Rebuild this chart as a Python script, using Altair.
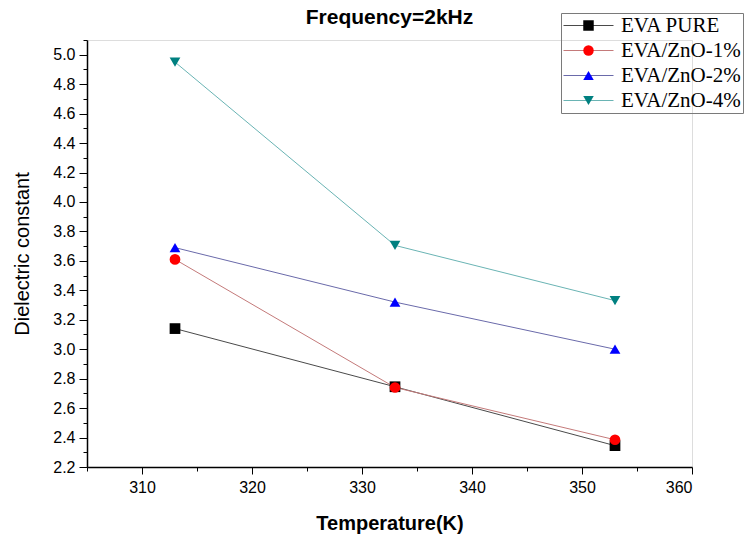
import altair as alt
import pandas as pd

temperature = [313, 333, 353]
series_names = ["EVA PURE", "EVA/ZnO-1%", "EVA/ZnO-2%", "EVA/ZnO-4%"]
eva_pure = [3.14, 2.745, 2.345]
eva_zno_1 = [3.61, 2.74, 2.385]
eva_zno_2 = [3.69, 3.32, 3.00]
eva_zno_4 = [4.95, 3.705, 3.33]

marker_colors = ["#000000", "#ff0000", "#0000ff", "#008080"]
line_colors = ["#4a4a4a", "#c47a7a", "#6a6aaa", "#6ab4b4"]
marker_shapes = ["square", "circle", "triangle-up", "triangle-down"]

x_ticks = [305, 310, 315, 320, 325, 330, 335, 340, 345, 350, 355, 360]
y_ticks = [2.2, 2.3, 2.4, 2.5, 2.6, 2.7, 2.8, 2.9, 3.0, 3.1, 3.2, 3.3, 3.4, 3.5,
           3.6, 3.7, 3.8, 3.9, 4.0, 4.1, 4.2, 4.3, 4.4, 4.5, 4.6, 4.7, 4.8, 4.9,
           5.0, 5.1]

rows = []
for name, vals in zip(series_names, [eva_pure, eva_zno_1, eva_zno_2, eva_zno_4]):
    for t, v in zip(temperature, vals):
        rows.append({"series": name, "series_line": name, "T": t, "eps": v})
df = pd.DataFrame(rows)

SANS = "Liberation Sans"
SERIF = "Liberation Serif"

x_axis = alt.Axis(
    values=x_ticks,
    labelExpr="datum.value % 10 === 0 ? datum.label : ''",
    format="d",
    tickSize={"condition": {"test": "datum.value % 10 === 0", "value": 7}, "value": 4},
    tickColor="black", tickWidth=1,
    domainColor="black", domainWidth=1.5,
    grid=False,
    labelFont=SANS, labelFontSize=16, labelColor="black", labelPadding=5,
    title="Temperature(K)", titleFont=SANS, titleFontSize=20, titleFontWeight="bold",
    titleColor="black", titlePadding=18,
)
y_axis = alt.Axis(
    values=y_ticks,
    labelExpr="round(datum.value * 10) % 2 === 0 && datum.value < 5.05 ? datum.label : ''",
    format=".1f",
    tickSize={"condition": {"test": "round(datum.value * 10) % 2 === 0", "value": 8}, "value": 4},
    tickColor="black", tickWidth=1,
    domainColor="black", domainWidth=1.5,
    grid=False,
    labelFont=SANS, labelFontSize=16, labelColor="black", labelPadding=4,
    title="Dielectric constant", titleFont=SANS, titleFontSize=20, titleFontWeight="normal",
    titleColor="black", titlePadding=20,
)

x_enc = alt.X("T:Q", scale=alt.Scale(domain=[305, 360], nice=False, zero=False), axis=x_axis)
y_enc = alt.Y("eps:Q", scale=alt.Scale(domain=[2.2, 5.1], nice=False, zero=False), axis=y_axis)

LEG_X = 474
LEG_Y = -27

line_legend = alt.Legend(
    orient="none", legendX=LEG_X, legendY=LEG_Y, title=None,
    symbolType="M-5,0H5", symbolSize=100, symbolStrokeWidth=1,
    symbolOffset=15, padding=2, rowPadding=3,
    labelFont=SERIF, labelFontSize=21, labelOffset=22, labelOpacity=0,
    labelLimit=300,
)
point_legend = alt.Legend(
    orient="none", legendX=LEG_X, legendY=LEG_Y, title=None,
    symbolSize=110, symbolStrokeWidth=0,
    symbolOffset=15, padding=2, rowPadding=3,
    labelFont=SERIF, labelFontSize=21, labelOffset=22, labelColor="black",
    labelLimit=300, strokeColor="#7a7a7a", zindex=2,
)

lines = alt.Chart(df).mark_line(strokeWidth=1).encode(
    x=x_enc, y=y_enc,
    color=alt.Color("series_line:N", scale=alt.Scale(range=line_colors), legend=line_legend),
)
points = alt.Chart(df).mark_point(filled=True, opacity=1, size=115, strokeWidth=0).encode(
    x=x_enc, y=y_enc,
    fill=alt.Fill("series:N", scale=alt.Scale(domain=series_names, range=marker_colors), legend=point_legend),
    shape=alt.Shape("series:N", scale=alt.Scale(domain=series_names, range=marker_shapes), legend=point_legend),
)

chart = alt.layer(lines, points).properties(
    width=605, height=427,
    title=alt.TitleParams("Frequency=2kHz", font=SANS, fontSize=21, fontWeight="bold",
                          color="black", anchor="middle", frame="group", offset=0, dy=15),
    autosize=alt.AutoSizeParams(type="none"),
    padding={"left": 87, "top": 40, "right": 63, "bottom": 77},
).configure_view(stroke=None).configure(background="white")

chart.save("out.html", embed_options={"renderer": "svg", "actions": False})
